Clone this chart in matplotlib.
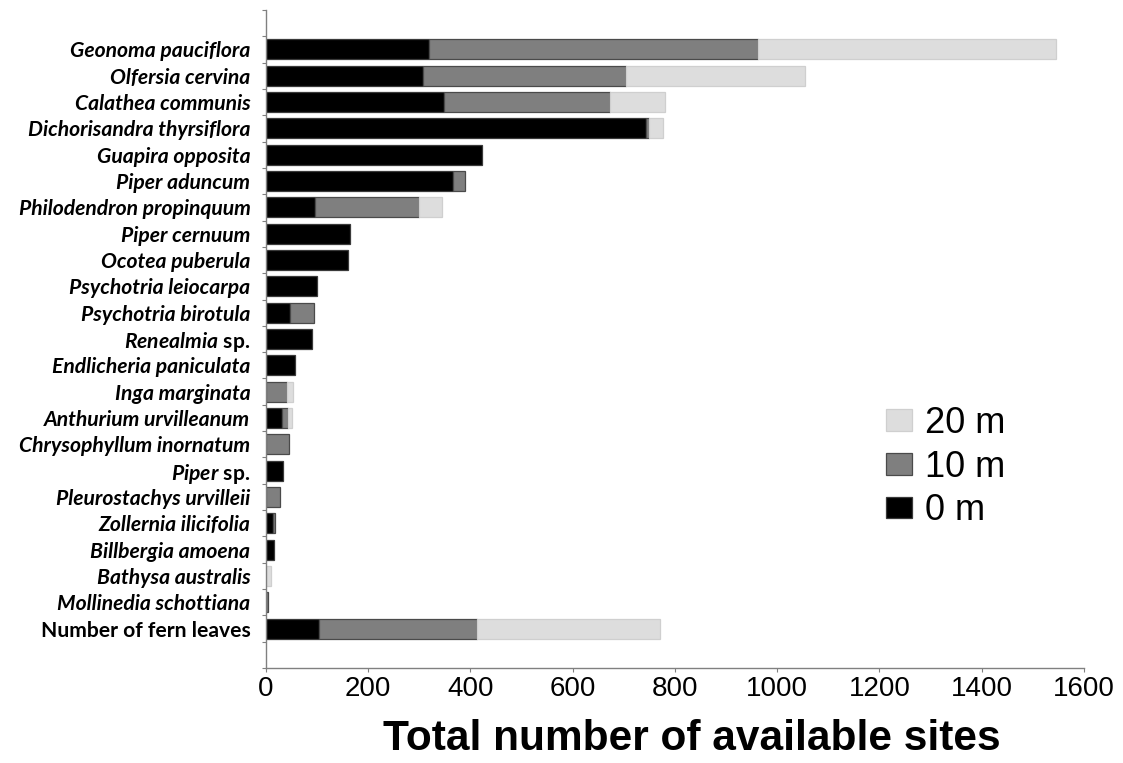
import numpy as np
import matplotlib
matplotlib.use("Agg")
import matplotlib.pyplot as plt

plt.rcParams["mathtext.fontset"] = "custom"
plt.rcParams["mathtext.bfit"] = "Lato:italic:bold"

species = [
    "Geonoma pauciflora", "Olfersia cervina", "Calathea communis",
    "Dichorisandra thyrsiflora", "Guapira opposita", "Piper aduncum",
    "Philodendron propinquum", "Piper cernuum", "Ocotea puberula",
    "Psychotria leiocarpa", "Psychotria birotula", "Renealmia sp.",
    "Endlicheria paniculata", "Inga marginata", "Anthurium urvilleanum",
    "Chrysophyllum inornatum", "Piper sp.", "Pleurostachys urvilleii",
    "Zollernia ilicifolia", "Billbergia amoena", "Bathysa australis",
    "Mollinedia schottiana", "Number of fern leaves",
]
sites_0m = [319, 307, 349, 744, 423, 367, 96, 164, 161, 100, 47, 91,
            57, 0, 32, 0, 34, 0, 15, 16, 0, 0, 104]
sites_10m = [643, 398, 325, 5, 0, 23, 204, 0, 0, 0, 48, 0,
             0, 41, 12, 46, 0, 27, 4, 0, 0, 5, 309]
sites_20m = [583, 349, 106, 27, 0, 0, 45, 0, 0, 0, 0, 0,
             0, 13, 8, 0, 0, 0, 0, 0, 10, 0, 357]
xticks = [0, 200, 400, 600, 800, 1000, 1200, 1400, 1600]

W, H = 1123, 763
fig = plt.figure(figsize=(W / 100, H / 100), dpi=100)
ax = fig.add_axes([265.7 / W, 1 - 668 / H, (1084 - 265.7) / W, (668 - 10) / H])

y = np.arange(len(species))
left = np.zeros(len(species))
series = [
    ("0 m", np.array(sites_0m, float), "#000000", "#3a3a3a"),
    ("10 m", np.array(sites_10m, float), "#7f7f7f", "#4a4a4a"),
    ("20 m", np.array(sites_20m, float), "#dddddd", "#cfcfcf"),
]
handles = []
for name, vals, fc, ec in series:
    lw = np.where(vals > 0, 0.9, 0.0)
    b = ax.barh(y, vals, left=left, height=0.76, color=fc,
                edgecolor=ec, linewidth=lw, label=name)
    handles.append(b)
    left += vals

ax.set_ylim(len(species) + 0.5, -1.5)
ax.set_xlim(0, 1600)
ax.set_xticks(xticks)
ax.set_xticklabels([str(t) for t in xticks], family="Liberation Sans", fontsize=20)
ax.tick_params(axis="x", direction="out", length=3, width=0.8, color="#808080", pad=3)

ax.set_yticks(y)
labels = []
for s in species:
    if s.endswith(" sp."):
        labels.append(r"$\mathbfit{" + s[:-4] + "}$ sp.")
    else:
        labels.append(s)
ax.set_yticklabels(labels, family="Lato", fontweight="bold", fontsize=15.2)
for s, t in zip(species, ax.get_yticklabels()):
    if not (s.endswith(" sp.") or s.startswith("Number")):
        t.set_fontstyle("italic")
ax.set_yticks(np.arange(-1.5, len(species) + 0.6, 1), minor=True)
ax.tick_params(axis="y", which="major", length=0, pad=11)
ax.tick_params(axis="y", which="minor", direction="out", length=3,
               width=0.8, color="#808080")

for side in ("top", "right"):
    ax.spines[side].set_visible(False)
for side in ("left", "bottom"):
    ax.spines[side].set_color("#808080")
    ax.spines[side].set_linewidth(1.0)

fig.text(691.5 / W, 1 - 750 / H, "Total number of available sites",
         ha="center", va="baseline", family="Liberation Sans",
         fontweight="bold", fontsize=30.5)

ax.legend(handles[::-1], [h.get_label() for h in handles[::-1]],
          loc="upper left", bbox_to_anchor=(886 / W, 1 - 406 / H),
          bbox_transform=fig.transFigure, frameon=False, borderpad=0,
          borderaxespad=0, handlelength=0.72, handleheight=0.55,
          handletextpad=0.36, labelspacing=0.24,
          prop={"family": "Liberation Sans", "size": 26})

fig.savefig("out.png", dpi=100)
